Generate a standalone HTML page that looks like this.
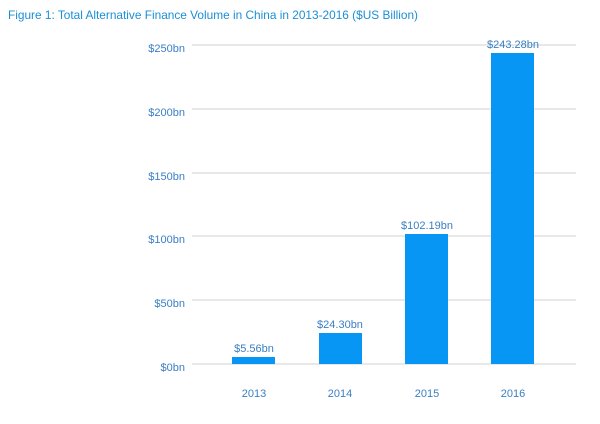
<!DOCTYPE html>
<html><head><style>
body{margin:0;background:#fff;width:600px;height:419px;overflow:hidden;font-family:"Liberation Sans",sans-serif}
</style></head><body>
<svg width="600" height="419" xmlns="http://www.w3.org/2000/svg" font-family="Liberation Sans, sans-serif">
<text x="8" y="19" font-size="12" fill="#1a8fd6" textLength="410" lengthAdjust="spacingAndGlyphs">Figure 1: Total Alternative Finance Volume in China in 2013-2016 ($US Billion)</text>
<g stroke="#d9d9d9" stroke-width="1.2">
<line x1="192" x2="576" y1="45" y2="45"/>
<line x1="192" x2="576" y1="109" y2="109"/>
<line x1="192" x2="576" y1="173" y2="173"/>
<line x1="192" x2="576" y1="236" y2="236"/>
<line x1="192" x2="576" y1="300" y2="300"/>
<line x1="192" x2="576" y1="364" y2="364"/>
</g>
<g font-size="11" fill="#3a7fc4" text-anchor="end">
<text x="185" y="52">$250bn</text>
<text x="185" y="116">$200bn</text>
<text x="185" y="180">$150bn</text>
<text x="185" y="243">$100bn</text>
<text x="185" y="307">$50bn</text>
<text x="185" y="371">$0bn</text>
</g>
<g fill="#0896f4">
<rect x="232" y="357" width="43" height="7"/>
<rect x="319" y="333" width="43" height="31"/>
<rect x="405" y="234" width="43" height="130"/>
<rect x="491" y="53" width="43" height="311"/>
</g>
<g font-size="11" fill="#3a7fc4" text-anchor="middle">
<text x="254" y="352">$5.56bn</text>
<text x="340" y="328">$24.30bn</text>
<text x="427" y="229">$102.19bn</text>
<text x="513" y="48">$243.28bn</text>
<text x="254" y="397">2013</text>
<text x="340" y="397">2014</text>
<text x="427" y="397">2015</text>
<text x="513" y="397">2016</text>
</g>
</svg>
</body></html>
